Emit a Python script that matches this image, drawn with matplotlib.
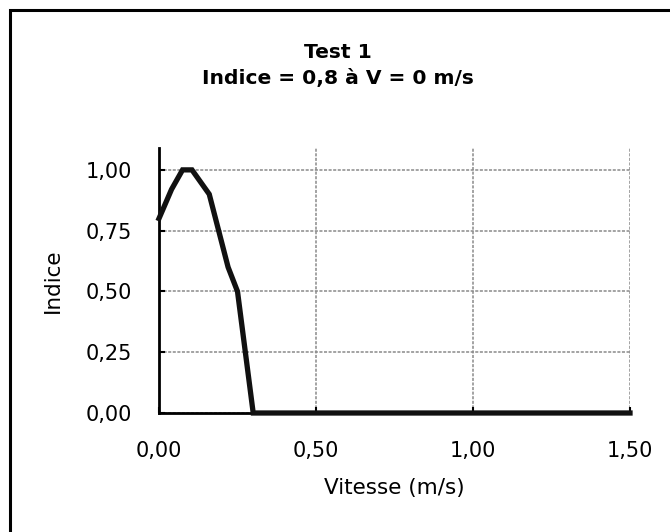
import matplotlib
matplotlib.use('Agg')
import matplotlib.pyplot as plt
from matplotlib.patches import Rectangle
from matplotlib.ticker import FuncFormatter

# données
vitesse = [0.0, 0.04, 0.075, 0.105, 0.16, 0.22, 0.25, 0.30, 1.50]
indice = [0.80, 0.92, 1.00, 1.00, 0.90, 0.60, 0.50, 0.00, 0.00]
x_ticks = [0.0, 0.5, 1.0, 1.5]
y_ticks = [0.0, 0.25, 0.5, 0.75, 1.0]

plt.rcParams['font.family'] = ['DejaVu Sans']

fig = plt.figure(figsize=(6.7, 5.32), dpi=100)
ax = fig.add_axes([159 / 670, 1 - 413 / 532, 471 / 670, 265 / 532])

# cadre autour de la figure (gauche et haut)
fig.patches.append(Rectangle((10 / 670, -0.02), 1.5, 1 - 10 / 532 + 0.02,
                             transform=fig.transFigure, fill=False,
                             edgecolor='black', linewidth=2.2))

ax.plot(vitesse, indice, color='#111111', linewidth=3.8, solid_joinstyle='miter',
        clip_on=False, zorder=3)

ax.set_xlim(0, 1.5)
ax.set_ylim(0, 1.09)
ax.set_xticks(x_ticks)
ax.set_yticks(y_ticks)
fmt = FuncFormatter(lambda v, p: f"{v:.2f}".replace('.', ','))
ax.xaxis.set_major_formatter(fmt)
ax.yaxis.set_major_formatter(fmt)

ax.grid(True, color='#8a8a8a', linestyle=(0, (2, 1)), linewidth=1.1)
ax.set_axisbelow(True)
for s in ['top', 'right']:
    ax.spines[s].set_visible(False)
for s in ['left', 'bottom']:
    ax.spines[s].set_linewidth(2.0)
ax.tick_params(direction='in', length=4, width=1.5, labelsize=15)
ax.tick_params(axis='x', pad=20)
ax.tick_params(axis='y', pad=19.5)

ax.set_xlabel('Vitesse (m/s)', fontsize=15.5, labelpad=12.5)
ax.set_ylabel('Indice', fontsize=15.5, labelpad=16)
fig.text(338 / 670, 1 - 58 / 532, 'Test 1', ha='center', va='baseline',
         fontsize=14.6, fontweight='bold')
fig.text(338 / 670, 1 - 84 / 532, 'Indice = 0,8 à V = 0 m/s', ha='center', va='baseline',
         fontsize=14.6, fontweight='bold')

plt.savefig('out.png', dpi=100)
